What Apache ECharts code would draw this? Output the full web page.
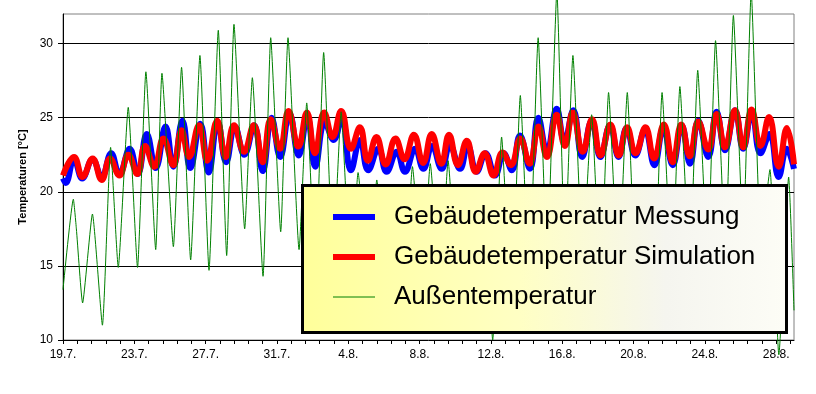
<!DOCTYPE html>
<html>
<head>
<meta charset="utf-8">
<script src="https://cdn.jsdelivr.net/npm/echarts@6/dist/echarts.min.js"></script>
<style>
html,body{margin:0;padding:0;background:#fff;}
#chart{width:816px;height:394px;}
</style>
</head>
<body>
<div id="chart"></div>
<script>
// x = days since 19.7. 00:00
const xTickLabels = ['19.7.','23.7.','27.7.','31.7.','4.8.','8.8.','12.8.','16.8.','20.8.','24.8.','28.8.'];
const seriesNames = ['Gebäudetemperatur Messung','Gebäudetemperatur Simulation','Außentemperatur'];

const measured = [
[0.0,20.9],[0.15,20.6],[0.62,22.2],[1.08,20.9],[1.66,22.2],[2.17,21.0],[2.7,22.6],[3.16,21.2],
[3.74,22.9],[4.19,21.2],[4.7,23.9],[5.2,21.6],[5.75,24.4],[6.19,21.7],[6.7,24.8],[7.14,21.6],
[7.7,24.6],[8.17,21.3],[8.68,24.7],[9.15,22.0],[9.64,24.4],[10.17,22.5],[10.72,24.5],[11.2,21.4],
[11.7,25.0],[12.18,22.35],[12.7,25.3],[13.22,22.45],[13.7,25.1],[14.15,21.7],[14.69,24.7],[15.18,23.5],
[15.63,25.0],[16.15,21.45],[16.66,23.5],[17.12,21.45],[17.69,22.9],[18.15,21.35],[18.72,22.7],[19.18,21.35],
[19.75,22.9],[20.21,21.55],[20.7,23.1],[21.24,21.55],[21.7,23.15],[22.27,21.55],[22.7,23.1],[23.2,21.35],
[23.7,22.6],[24.23,21.1],[24.72,22.6],[25.17,21.45],[25.63,23.8],[26.19,21.55],[26.66,25.0],[27.14,22.7],
[27.69,25.6],[28.12,23.4],[28.62,25.5],[29.12,22.35],[29.65,24.8],[30.14,22.35],[30.68,24.5],[31.16,22.35],
[31.61,24.3],[32.1,22.45],[32.64,24.2],[33.17,21.8],[33.67,24.3],[34.2,21.8],[34.7,24.5],[35.17,21.9],
[35.63,24.8],[36.19,22.35],[36.66,25.4],[37.13,22.8],[37.69,25.5],[38.15,22.9],[38.63,25.4],[39.12,22.6],
[39.63,23.9],[40.14,21.0],[40.59,22.9],[41.0,21.55]
];

const simulated = [
[0.0,21.1],[0.62,22.35],[1.1,21.0],[1.66,22.25],[2.17,20.8],[2.64,22.25],[3.16,21.1],[3.66,22.5],
[4.17,21.2],[4.6,23.1],[5.12,21.7],[5.63,23.6],[6.19,21.8],[6.65,24.15],[7.07,22.35],[7.63,24.5],
[8.09,22.1],[8.65,24.8],[9.12,22.35],[9.59,24.5],[10.15,22.7],[10.7,24.5],[11.2,22.0],[11.65,24.9],
[12.17,22.9],[12.65,25.45],[13.2,23.05],[13.68,25.35],[14.13,22.6],[14.65,25.35],[15.12,23.7],[15.6,25.45],
[16.15,22.9],[16.65,24.35],[17.1,22.1],[17.58,23.7],[18.1,21.85],[18.65,23.6],[19.15,22.2],[19.68,23.85],
[20.2,21.95],[20.68,23.9],[21.22,21.9],[21.65,23.85],[22.15,21.8],[22.65,23.45],[23.15,21.35],[23.65,22.6],
[24.15,21.1],[24.65,22.65],[25.12,21.8],[25.65,23.6],[26.17,21.9],[26.67,24.4],[27.14,22.35],[27.69,25.2],
[28.15,23.1],[28.59,25.35],[29.15,22.7],[29.67,24.9],[30.15,22.45],[30.7,24.55],[31.17,22.45],[31.64,24.35],
[32.11,22.6],[32.67,24.35],[33.15,22.25],[33.7,24.55],[34.2,22.0],[34.68,24.55],[35.16,22.4],[35.63,24.75],
[36.19,22.85],[36.66,25.25],[37.13,23.0],[37.69,25.5],[38.15,23.0],[38.62,25.55],[39.12,23.1],[39.6,25.05],
[40.14,21.7],[40.6,24.3],[41.0,21.85]
];

const outdoor = [
[0.0,13.4],[0.58,19.5],[0.75,17.5],[1.1,12.5],[1.65,18.5],[2.21,11.0],[2.67,23.0],[3.1,14.9],
[3.66,25.7],[4.18,14.9],[4.65,28.1],[5.2,16.1],[5.55,28.0],[6.19,16.3],[6.65,28.4],[7.16,15.4],
[7.68,29.2],[8.19,14.7],[8.71,30.9],[9.18,15.7],[9.59,31.3],[10.19,17.5],[10.62,27.7],[11.22,14.3],
[11.65,30.4],[12.21,17.3],[12.62,30.4],[13.24,16.1],[13.67,26.0],[14.15,14.5],[14.62,29.4],[15.15,15.5],
[15.6,25.4],[16.15,14.0],[16.55,21.3],[17.15,13.5],[17.6,20.8],[18.15,13.0],[18.6,19.8],[19.15,13.5],
[19.6,21.7],[20.15,14.0],[20.6,21.9],[21.15,13.5],[21.6,22.1],[22.15,13.0],[22.6,20.0],[23.15,12.5],
[23.6,20.2],[24.1,10.0],[24.6,23.7],[25.15,12.5],[25.65,26.5],[26.15,14.0],[26.65,30.4],[27.15,15.5],
[27.7,33.5],[28.15,16.0],[28.6,29.2],[29.15,15.5],[29.65,25.2],[30.15,14.0],[30.6,26.7],[31.15,14.5],
[31.65,26.7],[32.15,14.0],[32.6,20.3],[33.15,13.5],[33.6,26.7],[34.15,14.5],[34.6,27.1],[35.15,15.0],
[35.6,28.2],[36.15,15.5],[36.6,30.2],[37.15,16.0],[37.6,31.9],[38.15,17.0],[38.6,33.5],[39.15,16.5],
[39.65,21.5],[40.15,9.0],[40.7,21.0],[41.0,12.0]
];

const chart = echarts.init(document.getElementById('chart'), null, {renderer:'canvas'});
const FONT = 'Liberation Sans, Arial, sans-serif';

chart.setOption({
  animation: false,
  backgroundColor: '#ffffff',
  grid: {left: 63, right: 22, top: 14, bottom: 54, show: true, borderColor: '#808080', borderWidth: 1, backgroundColor: 'transparent'},
  xAxis: {
    type: 'value', min: 0, max: 41, interval: 0.8,
    axisLine: {show: true, onZero: false, lineStyle: {color: '#000', width: 1}},
    axisTick: {show: true, length: 4, lineStyle: {color: '#000'}},
    splitLine: {show: false},
    axisLabel: {
      color: '#000', fontFamily: FONT, fontSize: 12, margin: 9, showMaxLabel: false,
      formatter: function (v) {
        const k = v / 4;
        const r = Math.round(k);
        return Math.abs(k - r) < 1e-6 && r < xTickLabels.length ? xTickLabels[r] : '';
      }
    }
  },
  yAxis: {
    type: 'value', min: 10, max: 32, interval: 5,
    name: 'Temperaturen [°C]', nameLocation: 'middle', nameGap: 34,
    nameTextStyle: {color: '#000', fontFamily: FONT, fontSize: 11, fontWeight: 'bold'},
    axisLine: {show: true, lineStyle: {color: '#000', width: 1}},
    axisTick: {show: true, length: 5, lineStyle: {color: '#000'}},
    splitLine: {show: true, showMinLine: false, showMaxLine: false, lineStyle: {color: '#000', width: 1}},
    axisLabel: {color: '#000', fontFamily: FONT, fontSize: 12, margin: 10, showMaxLabel: false}
  },
  graphic: [{
    type: 'rect', z: 10,
    shape: {x: 302.5, y: 185.5, width: 484, height: 147},
    style: {
      fill: new echarts.graphic.LinearGradient(0, 0, 1, 0, [
        {offset: 0, color: '#ffff9a'},
        {offset: 0.45, color: '#ffffc4'},
        {offset: 0.75, color: '#f5f5ef'},
        {offset: 1, color: '#fdfdf6'}
      ]),
      stroke: '#000', lineWidth: 3
    }
  }],
  legend: {
    z: 20, orient: 'vertical', left: 330, top: 203, padding: 0,
    itemWidth: 42, itemHeight: 14, itemGap: 12,
    textStyle: {color: '#000', fontFamily: FONT, fontSize: 26, lineHeight: 28, padding: [0, 0, 0, 14]},
    data: [
      {name: seriesNames[0], lineStyle: {width: 6, color: '#0000ff'}, itemStyle: {opacity: 0}},
      {name: seriesNames[1], lineStyle: {width: 6, color: '#ff0000'}, itemStyle: {opacity: 0}},
      {name: seriesNames[2], lineStyle: {width: 1, color: '#008000'}, itemStyle: {opacity: 0}}
    ]
  },
  series: [
    {name: seriesNames[0], type: 'line', data: measured, symbol: 'none', smooth: 0.45,
     lineStyle: {color: '#0000ff', width: 6}, itemStyle: {color: '#0000ff'}, z: 2},
    {name: seriesNames[1], type: 'line', data: simulated, symbol: 'none', smooth: 0.45,
     lineStyle: {color: '#ff0000', width: 6}, itemStyle: {color: '#ff0000'}, z: 3},
    {name: seriesNames[2], type: 'line', data: outdoor, symbol: 'none', smooth: 0.15, clip: false,
     lineStyle: {color: '#008000', width: 1}, itemStyle: {color: '#008000'}, z: 4}
  ]
});
</script>
</body>
</html>
